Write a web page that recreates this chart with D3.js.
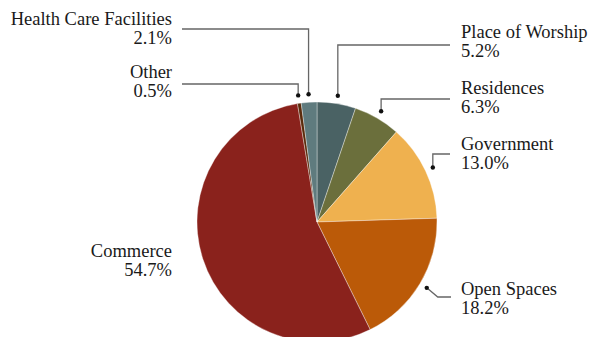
<!DOCTYPE html>
<html><head><meta charset="utf-8">
<script src="https://cdn.jsdelivr.net/npm/d3@7"></script>
<style>body{margin:0;background:#fff;} svg{display:block;} .lbl{font-family:"Liberation Serif","Times New Roman",serif;}</style>
</head><body>
<svg id="chart" width="590" height="337"></svg>
<script>
const categories = ["Place of Worship","Residences","Government","Open Spaces","Commerce","Other","Health Care Facilities"];
const values = [5.2, 6.3, 13.0, 18.2, 54.7, 0.5, 2.1];
const valueLabels = ["5.2%","6.3%","13.0%","18.2%","54.7%","0.5%","2.1%"];
const colors = ["#4a6264","#6b6f3c","#efb14f","#bb5a08","#8a221c","#5a2b0c","#5f7b7e"];

const svg = d3.select("#chart");
const cx = 317, cy = 222, R = 120, Rdot = 128;
const g = svg.append("g").attr("transform", `translate(${cx},${cy})`);

const pie = d3.pie().sort(null).value(d => d);
const arcs = pie(values);
const arc = d3.arc().innerRadius(0).outerRadius(R);
const dotArc = d3.arc().innerRadius(Rdot).outerRadius(Rdot);

g.selectAll("path.slice").data(arcs).join("path")
  .attr("class","slice")
  .attr("d", arc)
  .attr("fill", (d,i) => colors[i])
  .attr("stroke", "rgba(255,255,255,0.45)")
  .attr("stroke-width", 0.8);

const layout = [
  {side:"r", tx:461, ty:38,  ly:45,  lx:450},
  {side:"r", tx:461, ty:94,  ly:99,  lx:450},
  {side:"r", tx:461, ty:150, ly:154, lx:450},
  {side:"r", tx:461, ty:295, ly:297, lx:451, diag:true},
  {side:"l", tx:172, ty:257, none:true},
  {side:"l", tx:172, ty:78,  ly:84,  lx:182},
  {side:"l", tx:172, ty:25,  ly:29,  lx:182}
];

const lines = svg.append("g");
arcs.forEach((a,i) => {
  const L = layout[i];
  const [dx, dy] = dotArc.centroid(a);
  const px = cx + dx, py = cy + dy;
  if (!L.none) {
    const pts = L.diag ? [[px,py],[px+11,L.ly],[L.lx,L.ly]] : [[px,py],[px,L.ly],[L.lx,L.ly]];
    lines.append("path")
      .attr("d", d3.line()(pts))
      .attr("fill","none")
      .attr("stroke","#666")
      .attr("stroke-width",1.3);
    lines.append("circle").attr("cx",px).attr("cy",py).attr("r",2.2).attr("fill","#111");
  }
  const t = svg.append("text")
    .attr("class","lbl")
    .attr("x", L.tx).attr("y", L.ty)
    .attr("text-anchor", L.side === "r" ? "start" : "end")
    .style("font-size", "18.5px")
    .attr("fill","#1a1a1a");
  t.append("tspan").attr("x", L.tx).text(categories[i]);
  t.append("tspan").attr("x", L.tx).attr("dy", 19).text(valueLabels[i]);
});
</script>
</body></html>
